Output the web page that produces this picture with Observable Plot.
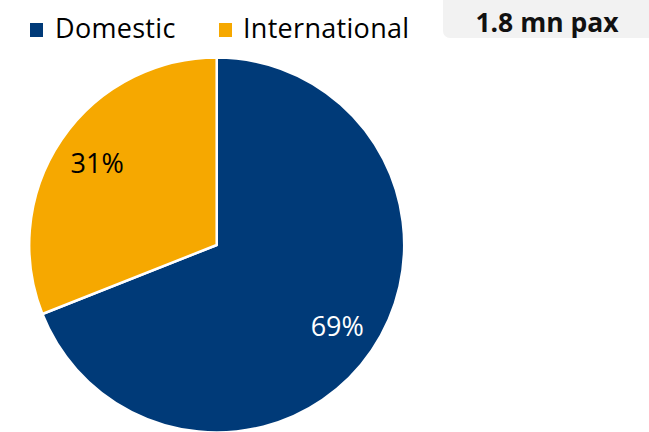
<!DOCTYPE html>
<html>
<head>
<meta charset="utf-8">
<script src="https://cdn.jsdelivr.net/npm/d3@7"></script>
<script src="https://cdn.jsdelivr.net/npm/@observablehq/plot@0.6"></script>
<style>
  html, body { margin: 0; padding: 0; background: #fff; }
  #wrap { position: relative; width: 649px; height: 432px; overflow: hidden; font-family: "Open Sans", sans-serif; }
  #chart { position: absolute; left: 0; top: 0; }
  .leg { position: absolute; top: 0; font-size: 27px; letter-spacing: 0.3px; color: #000; line-height: 1; }
  .sw { position: absolute; width: 13px; height: 14px; }
  #total { position: absolute; left: 443px; top: -8px; width: 220px; height: 46px; background: #f2f2f2; border-radius: 7px; }
  #total span { position: absolute; left: 0; width: 208px; top: 12px; text-align: center; font-weight: bold; font-size: 26.5px; color: #111; }
</style>
</head>
<body>
<div id="wrap">
  <div id="chart"></div>
  <div id="legend"></div>
  <div id="total"><span id="totalText"></span></div>
</div>
<script>
// ---- data ----
const categories = ["Domestic", "International"];
const shares = [69, 31];
const colors = ["#003a78", "#f6a800"];
const labelColors = ["white", "black"];
const totalLabel = "1.8 mn pax";

const data = categories.map((c, i) => ({category: c, value: shares[i], color: colors[i], labelColor: labelColors[i]}));
const arcs = d3.pie().sort(null).value(d => d.value)(data);
const labelR = 0.774;
const labels = arcs.map(a => {
  const mid = (a.startAngle + a.endAngle) / 2;
  return {
    ...a.data,
    lx: labelR * Math.sin(mid),
    ly: labelR * Math.cos(mid),
    text: a.data.value + "%"
  };
});

const pieMark = (index, scales) => {
  const {x, y} = scales;
  const cx = x(0), cy = y(0), r = x(1) - x(0);
  const g = d3.create("svg:g").attr("transform", `translate(${cx},${cy})`);
  const arc = d3.arc().innerRadius(0).outerRadius(r);
  g.selectAll("path").data(arcs).join("path")
    .attr("d", arc)
    .attr("fill", d => d.data.color)
    .attr("stroke", "white")
    .attr("stroke-width", 2.5)
    .attr("stroke-linejoin", "round");
  return g.node();
};

const plot = Plot.plot({
  width: 649,
  height: 432,
  margin: 0,
  x: {domain: [-1, 1], range: [29.2, 404.2], axis: null},
  y: {domain: [-1, 1], range: [432.5, 57.5], axis: null},
  style: {fontFamily: "Open Sans, sans-serif", background: "transparent"},
  marks: [
    pieMark,
    ...labels.map(l => Plot.text([l], {
      x: "lx", y: "ly", text: "text",
      fill: l.labelColor, fontSize: 27,
      textAnchor: "middle", lineAnchor: "middle"
    }))
  ]
});
document.getElementById("chart").appendChild(plot);

// legend
const legend = document.getElementById("legend");
const legPos = [{sw: 30, tx: 55}, {sw: 219, tx: 243}];
categories.forEach((c, i) => {
  const sw = document.createElement("div");
  sw.className = "sw";
  sw.style.left = legPos[i].sw + "px";
  sw.style.top = "23px";
  sw.style.background = colors[i];
  legend.appendChild(sw);
  const t = document.createElement("div");
  t.className = "leg";
  t.style.left = legPos[i].tx + "px";
  t.style.top = "14px";
  t.textContent = c;
  legend.appendChild(t);
});
document.getElementById("totalText").textContent = totalLabel;
</script>
</body>
</html>
